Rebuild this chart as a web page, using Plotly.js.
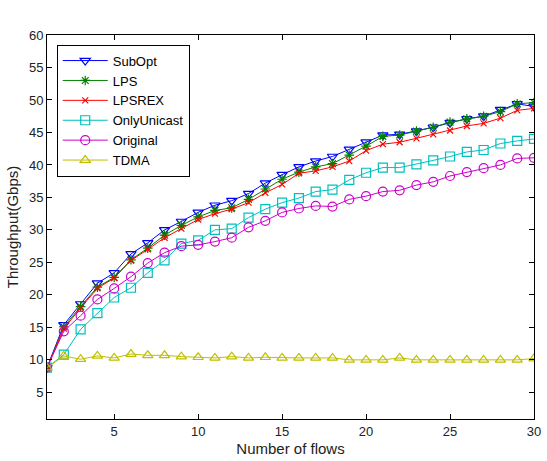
<!DOCTYPE html>
<html>
<head>
<meta charset="utf-8">
<script src="https://cdn.plot.ly/plotly-3.0.1.min.js"></script>
<style>
  html, body { margin: 0; padding: 0; background: #fff; }
  #chart { width: 547px; height: 461px; }
</style>
</head>
<body>
<div id="chart"></div>
<script>
// Number of flows on the x axis
const flows = [1, 2, 3, 4, 5, 6, 7, 8, 9, 10, 11, 12, 13, 14, 15,
               16, 17, 18, 19, 20, 21, 22, 23, 24, 25, 26, 27, 28, 29, 30];

// Throughput (Gbps) per scheme
const subOpt = [8.8, 15.4, 18.6, 21.8, 23.4, 26.3, 28.0, 30.0, 31.3, 32.7,
                33.8, 34.5, 35.6, 37.2, 38.5, 39.7, 40.6, 41.3, 42.4, 43.5,
                44.6, 44.7, 45.2, 45.8, 46.5, 47.1, 47.5, 48.5, 49.4, 49.0];
const lps = [8.8, 15.1, 18.2, 21.2, 22.7, 25.4, 27.2, 29.2, 30.7, 32.0,
             33.0, 33.4, 34.7, 36.3, 37.8, 38.9, 39.7, 40.2, 41.5, 42.9,
             44.4, 44.6, 45.2, 45.8, 46.6, 47.1, 47.5, 48.2, 49.4, 49.6];
const lpsRex = [8.8, 14.8, 18.0, 21.0, 22.6, 25.3, 27.0, 28.8, 30.2, 31.6,
                32.5, 33.2, 34.2, 35.7, 37.0, 38.7, 39.1, 39.7, 40.6, 42.2,
                43.2, 43.5, 44.1, 44.7, 45.3, 46.0, 46.4, 47.2, 48.4, 48.7];
const onlyUnicast = [8.8, 10.8, 14.7, 17.2, 19.6, 21.1, 23.4, 25.3, 27.9, 28.4,
                     30.0, 30.2, 31.9, 33.2, 34.2, 34.9, 35.9, 36.2, 37.7, 38.8,
                     39.6, 39.6, 40.1, 40.7, 41.3, 42.0, 42.3, 43.3, 43.7, 44.0];
const original = [8.8, 14.4, 16.8, 19.3, 21.0, 22.8, 24.9, 26.5, 27.5, 27.7,
                  28.2, 28.8, 30.4, 31.4, 32.7, 33.3, 33.7, 33.6, 34.7, 35.2,
                  35.9, 36.1, 36.9, 37.4, 38.3, 38.9, 39.5, 40.0, 41.0, 41.1];
const tdma = [8.8, 10.6, 10.1, 10.6, 10.3, 10.9, 10.7, 10.7, 10.5, 10.4,
              10.3, 10.5, 10.3, 10.4, 10.3, 10.3, 10.3, 10.3, 10.0, 10.0,
              10.0, 10.3, 10.0, 10.0, 10.0, 10.0, 10.0, 10.0, 10.0, 10.2];

const seriesNames = ['SubOpt', 'LPS', 'LPSREX', 'OnlyUnicast', 'Original', 'TDMA'];
const xTicks = [5, 10, 15, 20, 25, 30];
const yTicks = [5, 10, 15, 20, 25, 30, 35, 40, 45, 50, 55, 60];

function series(name, y, color, symbol, size) {
  return {
    x: flows, y: y, name: name, type: 'scatter', mode: 'lines+markers',
    line: { color: color, width: 1 },
    marker: { symbol: symbol, size: size, color: color,
              line: { color: color, width: 1.2 } }
  };
}

const traces = [
  series(seriesNames[0], subOpt, '#0000ff', 'triangle-down-open', 9),
  series(seriesNames[1], lps, '#008000', 'asterisk-open', 8),
  series(seriesNames[2], lpsRex, '#ff0000', 'x-thin-open', 6),
  series(seriesNames[3], onlyUnicast, '#00bfbf', 'square-open', 9),
  series(seriesNames[4], original, '#cc00cc', 'circle-open', 9),
  series(seriesNames[5], tdma, '#bfbf00', 'triangle-up-open', 9)
];

const fontFamily = 'Liberation Sans, Arial, sans-serif';

const layout = {
  width: 547, height: 461,
  margin: { l: 47, r: 13, t: 35, b: 42 },
  paper_bgcolor: '#fff', plot_bgcolor: '#fff',
  font: { family: fontFamily, size: 13, color: '#222' },
  showlegend: true,
  legend: {
    x: 0.02, y: 0.975, xanchor: 'left', yanchor: 'top',
    bgcolor: '#fff', bordercolor: '#000', borderwidth: 1,
    font: { family: fontFamily, size: 13, color: '#000' },
    tracegroupgap: 0, itemwidth: 45
  },
  xaxis: {
    range: [1, 30], tickvals: xTicks, ticktext: xTicks.map(String),
    ticks: 'inside', ticklen: 5, tickcolor: '#000', mirror: 'ticks',
    showline: true, linecolor: '#000', linewidth: 1,
    showgrid: false, zeroline: false,
    title: { text: 'Number of flows', standoff: 5,
             font: { family: fontFamily, size: 15, color: '#222' } }
  },
  yaxis: {
    range: [0.9, 60], tickvals: yTicks, ticktext: yTicks.map(String),
    ticks: 'inside', ticklen: 5, tickcolor: '#000', mirror: 'ticks',
    showline: true, linecolor: '#000', linewidth: 1,
    showgrid: false, zeroline: false,
    title: { text: 'Throughput(Gbps)', standoff: 6,
             font: { family: fontFamily, size: 15, color: '#222' } }
  }
};

Plotly.newPlot('chart', traces, layout, { staticPlot: true, displayModeBar: false });
</script>
</body>
</html>
